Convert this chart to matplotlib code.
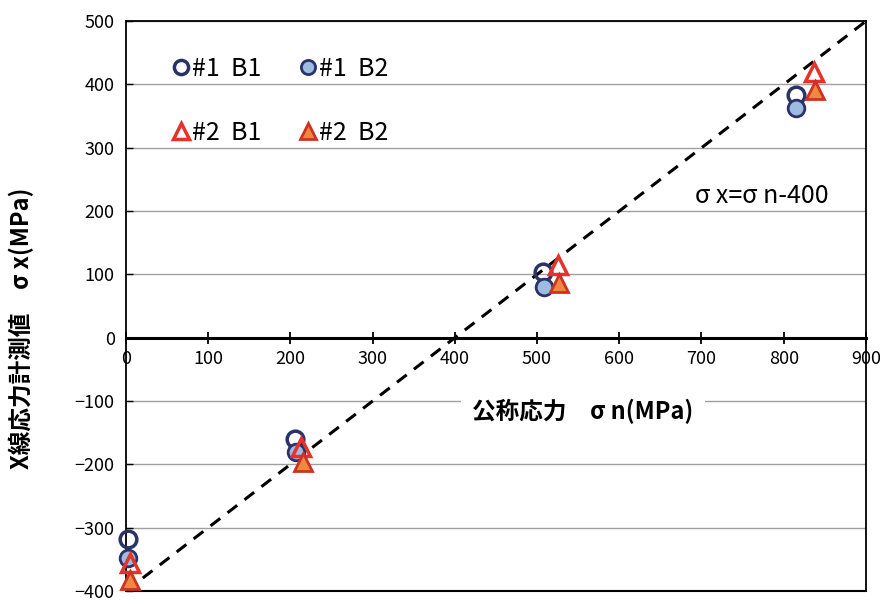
import matplotlib.pyplot as plt

plt.rcParams['font.family'] = ['Noto Sans CJK JP', 'DejaVu Sans']

b1_1_x = [3, 206, 507, 815]
b1_1_y = [-318, -160, 104, 384]
b2_1_x = [3, 207, 509, 815]
b2_1_y = [-348, -180, 80, 363]
b1_2_x = [5, 213, 525, 837]
b1_2_y = [-355, -172, 115, 420]
b2_2_x = [5, 215, 527, 838]
b2_2_y = [-382, -196, 87, 392]

line_x = [0, 900]
line_y = [x - 400 for x in line_x]

x_ticks = list(range(0, 901, 100))
y_ticks = list(range(-400, 501, 100))

navy = '#2b3266'
red = '#e5322a'

fig = plt.figure(figsize=(8.8, 6.05), dpi=100)
ax = fig.add_axes([0.143, 0.023, 0.841, 0.942])

ax.set_xlim(0, 900)
ax.set_ylim(-400, 500)
ax.set_xticks(x_ticks)
ax.set_yticks(y_ticks)
ax.yaxis.grid(True, color='#a0a0a0', lw=1)
ax.set_axisbelow(True)

# x axis sits on y=0, frame closed with a line at the bottom
ax.spines['bottom'].set_position(('data', 0))
ax.spines['bottom'].set_linewidth(2.2)
ax.axhline(-400, color='k', lw=1.5, clip_on=False)
for s in ['top', 'right', 'left']:
    ax.spines[s].set_linewidth(1.3)
ax.tick_params(axis='x', direction='inout', length=9, width=1.3, labelsize=13, pad=4)
ax.tick_params(axis='y', direction='in', length=5, width=1, labelsize=13, pad=8)

ax.plot(line_x, line_y, color='k', ls=(0, (4, 3)), lw=2.2, zorder=2)

ms = 12
h1, = ax.plot(b1_1_x, b1_1_y, 'o', ms=ms, mfc='none', mec=navy, mew=2.5, ls='none', label='#1  B1', clip_on=False, zorder=3)
h2, = ax.plot(b2_1_x, b2_1_y, 'o', ms=ms, mfc='#9dbbe3', mec=navy, mew=2, ls='none', label='#1  B2', clip_on=False, zorder=3)
h3, = ax.plot(b1_2_x, b1_2_y, '^', ms=ms + 1, mfc='none', mec=red, mew=2.5, ls='none', label='#2  B1', clip_on=False, zorder=4)
h4, = ax.plot(b2_2_x, b2_2_y, '^', ms=ms + 1, mfc='#f0883e', mec='#cc3324', mew=2, ls='none', label='#2  B2', clip_on=False, zorder=4)

ax.legend(handles=[h1, h3, h2, h4], ncol=2, loc='upper left', bbox_to_anchor=(0.032, 0.978),
          frameon=False, fontsize=18, handlelength=0.7, handletextpad=0.1,
          labelspacing=1.5, columnspacing=1.5, markerscale=0.85)

ax.text(692, 224, 'σ x=σ n-400', fontsize=18, ha='left', va='center')
ax.text(556, -117, '公称応力　σ n(MPa)', fontsize=17, fontweight='bold', ha='center', va='center',
        bbox=dict(facecolor='white', edgecolor='none', pad=8))
fig.text(0.024, 0.458, 'X線応力計測値　σ x(MPa)', fontsize=17, fontweight='bold',
         rotation=90, ha='center', va='center')

fig.savefig('out.png', dpi=100)
